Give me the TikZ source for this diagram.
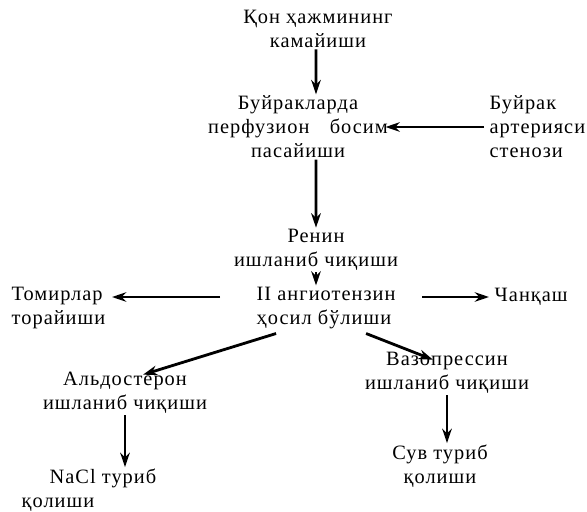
\documentclass[tikz,border=0pt]{standalone}
\usepackage{fontspec}
\setmainfont[LetterSpace=5]{Liberation Serif}
\usetikzlibrary{arrows.meta}

\begin{document}
\begin{tikzpicture}[x=0.25mm, y=-0.25mm,
    arr/.style={-{Stealth[length=3.6mm, width=2.4mm]}, line width=2pt},
    lbl/.style={font=\fontsize{14.5}{17}\selectfont, inner sep=1pt, align=center}]
  \useasboundingbox (0,0) rectangle (587,512);
  %--- Boxes of text
  \node[lbl] (qon)   at (318,29)  {Қон ҳажмининг\\камайиши};
  \node[lbl] (buyr)  at (298,127) {Буйракларда\\перфузион\quad босим\\пасайиши};
  \node[lbl, align=left, anchor=west] (sten) at (488,127) {Буйрак\\артерияси\\стенози};
  \node[lbl] (renin) at (316,250) {Ренин\\ишланиб чиқиши};
  \node[lbl, align=left, anchor=west] (angio) at (255,308) {II ангиотензин\\ҳосил бўлиши};
  \node[lbl, align=left, anchor=west] (tomir) at (10,308) {Томирлар\\торайиши};
  \node[lbl, anchor=west] (chanq) at (493,297) {Чанқаш};
  \node[lbl] (aldo)  at (125,393) {Альдостерон\\ишланиб чиқиши};
  \node[lbl, align=left, anchor=west] (nacl) at (20,490) {\hspace*{7mm}NaCl туриб\\қолиши};
  \node[lbl] (vazo)  at (447,373) {Вазопрессин\\ишланиб чиқиши};
  \node[lbl] (suv)   at (440,466) {Сув туриб\\қолиши};
  %--- Arrows
  \draw[arr] ([xshift=-0.5mm]qon.south) -- ([xshift=4.5mm]buyr.north);
  \draw[arr] ([xshift=-1mm]sten.west) -- ([xshift=-1mm]buyr.east);
  \draw[arr] ([xshift=4.5mm]buyr.south) -- (renin.north);
  \draw[arr] (renin.south) -- (renin.south |- angio.north);
  \draw[arr] ([shift={(-35,-11)}]angio.west) -- ([shift={(5,-11)}]tomir.east);
  \draw[arr] ([shift={(25,-11)}]angio.east) -- ([xshift=-1mm]chanq.west);
  \draw[arr] ([shift={(-50,3)}]angio.south) -- ([shift={(18,4)}]aldo.north);
  \draw[arr] ([shift={(40,3)}]angio.south) -- ([shift={(-14,9)}]vazo.north);
  \draw[arr] (aldo.south) -- (aldo.south |- nacl.north);
  \draw[arr] (vazo.south) -- (vazo.south |- suv.north);
\end{tikzpicture}
\end{document}
